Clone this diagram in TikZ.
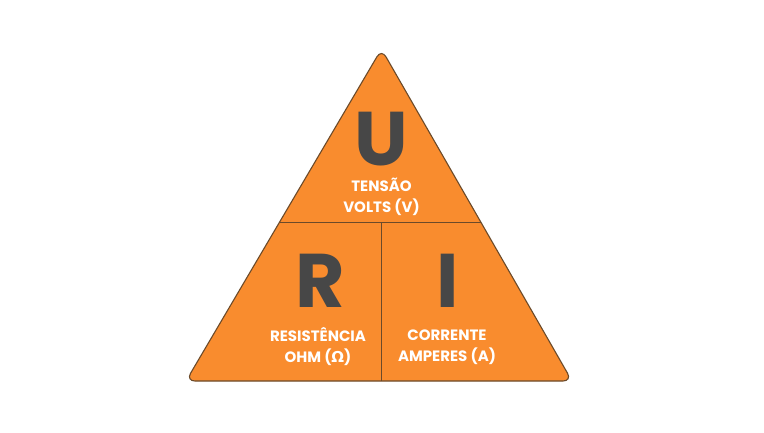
\documentclass[tikz,border=0pt]{standalone}
\usepackage{fontspec}
\usetikzlibrary{calc}
\setmainfont{Poppins}
\newfontfamily\symfont{DejaVu Sans}
\definecolor{orng}{HTML}{F98C2E}
\definecolor{edge}{HTML}{6B4A2A}
\definecolor{letter}{HTML}{474747}
\begin{document}
\begin{tikzpicture}[x=1pt,y=-1pt,
  big/.style={font=\fontsize{76}{76}\selectfont\bfseries, text=letter, inner sep=0pt, anchor=base},
  lbl/.style={font=\fontsize{15}{21}\selectfont\bfseries, text=white, align=center, inner sep=0pt}]
\useasboundingbox (0,0) rectangle (764,432);
\fill[white] (0,0) rectangle (764,432);
\coordinate (top) at (381.5,49);
\coordinate (bl) at (186,381);
\coordinate (br) at (572,381);
\draw[edge, fill=orng, line width=1.1pt, rounded corners=9pt] (top) -- (br) -- (bl) -- cycle;
\coordinate (hl) at ($(top)!0.5226!(bl)$);
\coordinate (hr) at ($(top)!0.5226!(br)$);
\coordinate (vt) at (381.5,222.5);
\coordinate (vb) at (381.5,381);
\draw[edge, line width=1.1pt] (hl) -- (hr);
\draw[edge, line width=1.1pt] (vt) -- (vb);
\node[big] (u) at (381.5,165) {U};
\node[big] (r) at (320,307) {R};
\node[big] (i) at (448,307) {I};
\node[lbl] (t1) at (381.5,197) {TENSÃO\\VOLTS (V)};
\node[lbl] (t2) at (318,347) {RESISTÊNCIA\\OHM ({\symfont Ω})};
\node[lbl] (t3) at (447,347) {CORRENTE\\AMPERES (A)};
\end{tikzpicture}
\end{document}
